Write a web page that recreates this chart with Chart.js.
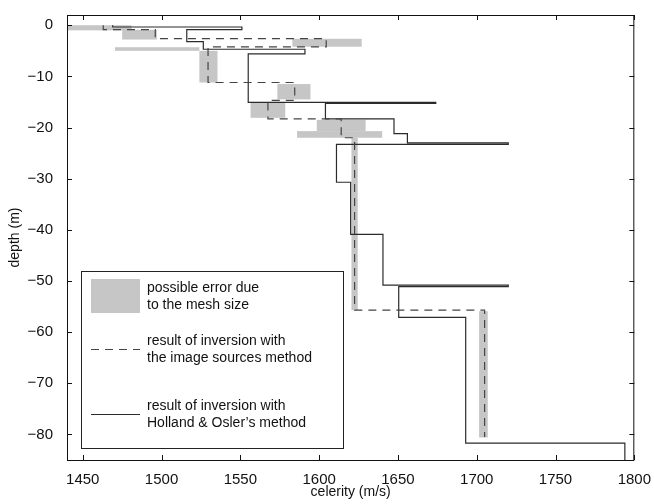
<!DOCTYPE html>
<html>
<head>
<meta charset="utf-8">
<script src="https://cdn.jsdelivr.net/npm/chart.js@4.4.1/dist/chart.umd.min.js"></script>
<style>
  body { margin: 0; background: #fff; }
</style>
</head>
<body>
<canvas id="c" width="654" height="504"></canvas>
<script>
// tick labels
const xTicks = [1450, 1500, 1550, 1600, 1650, 1700, 1750, 1800];
const yTicks = [-80, -70, -60, -50, -40, -30, -20, -10, 0];

// Holland & Osler's method: celerity of each layer, and layer boundaries (depth)
const solidCelerity = [1469, 1551, 1516, 1526.5, 1591, 1555, 1674, 1604, 1647.5, 1656, 1720, 1611, 1620, 1640.5, 1720, 1650.5, 1693, 1794];
const solidDepth = [0, -0.35, -0.84, -3.2, -4.7, -5.6, -15.1, -15.3, -18.3, -21.2, -23.0, -23.3, -30.7, -40.9, -50.8, -51.1, -57.1, -81.7, -85];

// image sources method
const dashCelerity = [1463, 1496, 1604.5, 1529.5, 1584.5, 1567.5, 1614, 1622.5, 1705];
const dashDepth = [0, -0.84, -2.6, -4.25, -11.2, -14.7, -18.3, -22.0, -55.7, -80.5];

// possible error due to mesh size (grey boxes)
const errCelMin = [1440, 1475, 1470.5, 1583, 1524, 1573.5, 1556.5, 1598.5, 1586, 1620.5, 1701.5];
const errCelMax = [1481, 1497, 1524, 1627, 1535.5, 1594.5, 1578.5, 1629.5, 1640, 1624.5, 1707];
const errDepTop = [0, -0.9, -4.3, -2.65, -5.0, -11.5, -15.0, -18.5, -20.7, -22.0, -55.9];
const errDepBot = [-1.0, -2.8, -5.0, -4.2, -11.2, -14.5, -18.1, -20.7, -22.0, -55.7, -80.6];

function stairs(cel, dep) {
  let pts = [];
  cel.forEach((c, i) => {
    pts.push({ x: c, y: dep[i] });
    pts.push({ x: c, y: dep[i + 1] });
  });
  return pts;
}

const minus = v => String(v).replace('-', '\u2212');

// grey error boxes under the lines
const boxPlugin = {
  id: 'boxes',
  beforeDatasetsDraw(chart) {
    const ctx = chart.ctx, xs = chart.scales.x, ys = chart.scales.y, a = chart.chartArea;
    ctx.save();
    ctx.beginPath();
    ctx.rect(a.left, a.top, a.right - a.left, a.bottom - a.top);
    ctx.clip();
    ctx.fillStyle = '#c6c6c6';
    errCelMin.forEach((c, i) => {
      const x0 = xs.getPixelForValue(c), x1 = xs.getPixelForValue(errCelMax[i]);
      const y0 = ys.getPixelForValue(errDepTop[i]), y1 = ys.getPixelForValue(errDepBot[i]);
      ctx.fillRect(x0, y0, x1 - x0, y1 - y0);
    });
    ctx.restore();
  }
};

// frame, inward ticks and the legend box
const framePlugin = {
  id: 'frame',
  afterDatasetsDraw(chart) {
    const ctx = chart.ctx, xs = chart.scales.x, ys = chart.scales.y, a = chart.chartArea;
    ctx.save();
    ctx.strokeStyle = '#111';
    ctx.lineWidth = 1;
    ctx.strokeRect(a.left + 0.5, a.top + 0.5, a.right - a.left - 1, a.bottom - a.top);
    ctx.beginPath();
    xTicks.forEach(v => {
      const x = Math.round(xs.getPixelForValue(v)) + 0.5;
      ctx.moveTo(x, a.bottom); ctx.lineTo(x, a.bottom - 5);
      ctx.moveTo(x, a.top); ctx.lineTo(x, a.top + 5);
    });
    yTicks.forEach(v => {
      const y = Math.round(ys.getPixelForValue(v)) + 0.5;
      ctx.moveTo(a.left, y); ctx.lineTo(a.left + 5, y);
      ctx.moveTo(a.right, y); ctx.lineTo(a.right - 5, y);
    });
    ctx.stroke();

    // legend
    const lx = 81, ly = 271, lw = 262, lh = 177;
    ctx.fillStyle = '#fff';
    ctx.fillRect(lx, ly, lw, lh);
    ctx.strokeStyle = '#222';
    ctx.strokeRect(lx + 0.5, ly + 0.5, lw, lh);
    ctx.fillStyle = '#c6c6c6';
    ctx.fillRect(91, 279, 49, 34);
    ctx.lineWidth = 1.2;
    ctx.strokeStyle = '#444';
    ctx.setLineDash([8, 6]);
    ctx.beginPath(); ctx.moveTo(91, 349.5); ctx.lineTo(140, 349.5); ctx.stroke();
    ctx.setLineDash([]);
    ctx.strokeStyle = '#2b2b2b';
    ctx.beginPath(); ctx.moveTo(91, 414.5); ctx.lineTo(140, 414.5); ctx.stroke();
    ctx.fillStyle = '#111';
    ctx.font = '14px "Liberation Sans", Arial, sans-serif';
    ctx.textBaseline = 'middle';
    ctx.fillText('possible error due', 147, 288);
    ctx.fillText('to the mesh size', 147, 305);
    ctx.fillText('result of inversion with', 147, 341);
    ctx.fillText('the image sources method', 147, 358);
    ctx.fillText('result of inversion with', 147, 406);
    ctx.fillText('Holland & Osler\u2019s method', 147, 423);
    ctx.restore();
  }
};

new Chart(document.getElementById('c'), {
  type: 'line',
  data: {
    datasets: [{
      label: 'image sources method',
      data: stairs(dashCelerity, dashDepth),
      borderColor: '#444',
      borderWidth: 1.2,
      borderDash: [8, 6],
      pointRadius: 0,
      tension: 0,
      fill: false
    }, {
      label: "Holland & Osler's method",
      data: stairs(solidCelerity, solidDepth),
      borderColor: '#2b2b2b',
      borderWidth: 1.2,
      pointRadius: 0,
      tension: 0,
      fill: false
    }]
  },
  options: {
    responsive: false,
    animation: false,
    layout: { padding: { top: 12.5, right: 19, left: 0, bottom: 0 } },
    plugins: { legend: { display: false }, tooltip: { enabled: false } },
    scales: {
      x: {
        type: 'linear',
        min: 1440,
        max: 1800,
        afterBuildTicks: s => { s.ticks = xTicks.map(v => ({ value: v })); },
        afterFit: s => { s.height = 44; },
        grid: { display: false },
        border: { display: false },
        ticks: { padding: 3, color: '#111', font: { family: '"Liberation Sans", Arial', size: 15 }, maxRotation: 0, callback: v => String(v) },
        title: { display: true, text: 'celerity (m/s)', color: '#111', font: { family: '"Liberation Sans", Arial', size: 14 }, padding: { top: 0, bottom: 3 } }
      },
      y: {
        type: 'linear',
        min: -85,
        max: 2,
        afterBuildTicks: s => { s.ticks = yTicks.map(v => ({ value: v })); },
        afterFit: s => { s.width = 67; },
        grid: { display: false },
        border: { display: false },
        ticks: { padding: 6, color: '#111', font: { family: '"Liberation Sans", Arial', size: 15 }, callback: v => minus(v) },
        title: { display: true, text: 'depth (m)', color: '#111', font: { family: '"Liberation Sans", Arial', size: 14 }, padding: { top: 7, bottom: 0 } }
      }
    }
  },
  plugins: [boxPlugin, framePlugin]
});
</script>
</body>
</html>
